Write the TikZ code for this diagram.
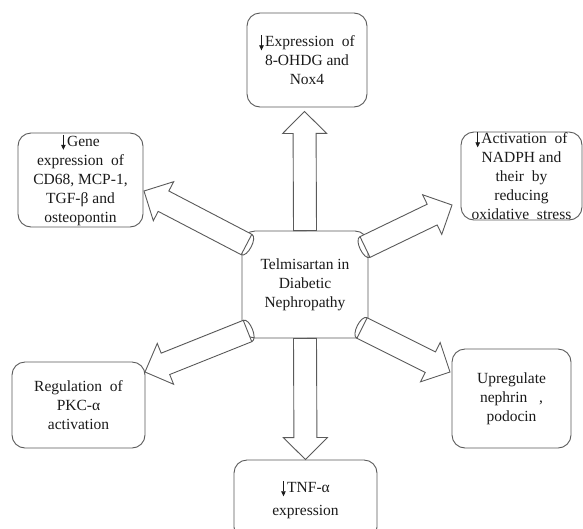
\documentclass[tikz,border=0pt]{standalone}
\usepackage{fontspec}
\setmainfont{Liberation Serif}
\usetikzlibrary{calc,arrows.meta}
\definecolor{edge}{HTML}{5A5A5A}
\definecolor{ink}{HTML}{1A1A1A}
\tikzset{
  box/.style={draw=edge, line width=0.9pt, rounded corners=13pt, fill=white,
    align=center, text=ink, inner sep=0pt,
    font=\fontsize{15.5}{19}\selectfont},
  barrowst/.style={draw=edge, line width=0.9pt, fill=white, line join=miter},
}
\newcommand\dnar{\tikz[baseline=0pt, x=1pt, y=1pt]\draw[ink, line width=0.7pt,
  -{Triangle[length=5pt,width=4.5pt]}] (0,11.5) -- (0,-3.5);\hspace{1.5pt}}
\newcommand\blockarrow[2]{%
  \path (#1) coordinate (bT) (#2) coordinate (bP);
  \path ($(bP)!22pt!(bT)$) coordinate (bH);
  \draw[barrowst] ($(bT)!11.5pt!90:(bP)$) -- ($(bH)!11.5pt!-90:(bT)$)
    -- ($(bH)!22pt!-90:(bT)$) -- (bP) -- ($(bH)!22pt!90:(bT)$)
    -- ($(bH)!11.5pt!90:(bT)$) -- ($(bT)!11.5pt!-90:(bP)$) -- cycle;
}
\newcommand\blockcap[2]{%
  \path (#1) coordinate (bT) (#2) coordinate (bP);
  \path ($(bT)!-7pt!(bP)$) coordinate (bB);
  \draw[draw=edge, line width=0.9pt] ($(bT)!11.5pt!90:(bP)$)
    .. controls ($(bB)!11.5pt!90:(bP)$) and ($(bB)!11.5pt!-90:(bP)$) ..
    ($(bT)!11.5pt!-90:(bP)$);
}
\begin{document}
\begin{tikzpicture}[x=1pt,y=-1pt]
\useasboundingbox (0,0) rectangle (583,528);
\clip (0,0) rectangle (583,528);
\fill[white] (0,0) rectangle (583,528);

% boxes
\node[box, minimum width=126pt, minimum height=107pt] (c) at (305,284.5)
  {Telmisartan in\\Diabetic\\Nephropathy};
\node[box, minimum width=120pt, minimum height=94pt] (top) at (307,60)
  {\dnar Expression\ \ of\\8-OHDG and\\Nox4};
\node[box, minimum width=125pt, minimum height=94pt] (gene) at (80.5,180)
  {\dnar Gene\\expression\ \ of\\CD68, MCP-1,\\TGF-β and\\osteopontin};
\node[box, minimum width=121pt, minimum height=88pt] (nad) at (521.5,176)
  {\dnar Activation\ \ of\\NADPH and\\their\ \ by\\reducing\\oxidative\ \ stress};
\node[box, minimum width=133pt, minimum height=86pt] (reg) at (78.5,405)
  {Regulation\ \ of\\PKC-α\\activation};
\node[box, minimum width=119pt, minimum height=99pt] (up) at (511.5,398.5)
  {Upregulate\\nephrin\ \ \ ,\\podocin};
\node[box, minimum width=143pt, minimum height=80pt,
  font=\fontsize{15.5}{23}\selectfont] (bot) at (305.5,500)
  {\dnar TNF-α\\expression};

% arrow end points
\coordinate (a1t) at (246.5,244.5);
\coordinate (a1h) at (144,191);
\coordinate (a2t) at (365,247);
\coordinate (a2h) at (452,205);
\coordinate (a3t) at (247.5,331);
\coordinate (a3h) at (145,372);
\coordinate (a4t) at (362,328);
\coordinate (a4h) at (450,372);
\coordinate (a5h) at ($(top.south)+(-2.5,4)$);

% block arrows
\blockarrow{c.north}{a5h}
\blockarrow{c.south}{bot.north}
\blockarrow{a1t}{a1h}
\blockcap{a1t}{a1h}
\blockarrow{a2t}{a2h}
\blockcap{a2t}{a2h}
\blockarrow{a3t}{a3h}
\blockcap{a3t}{a3h}
\blockarrow{a4t}{a4h}
\blockcap{a4t}{a4h}
\end{tikzpicture}
\end{document}
